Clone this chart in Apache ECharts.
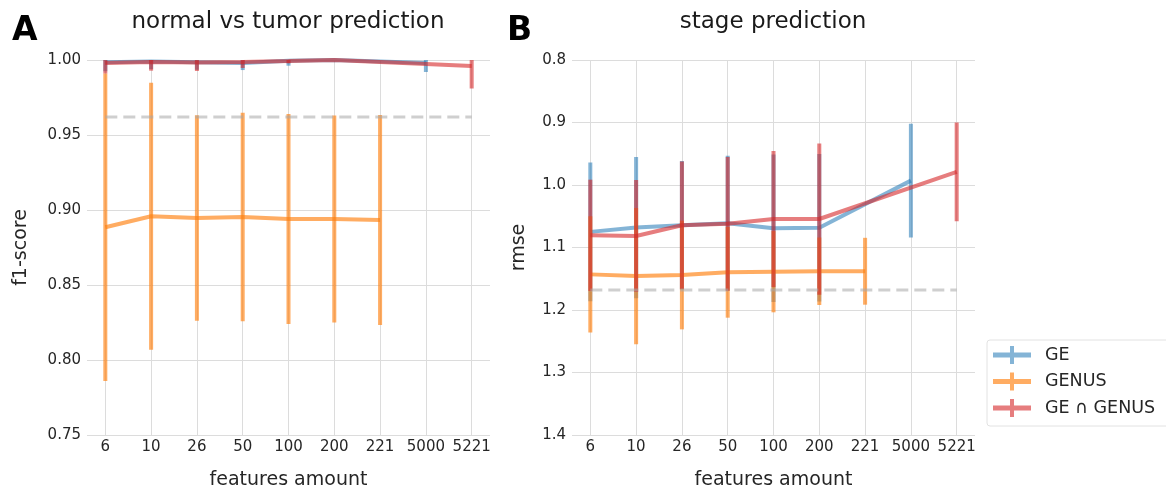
<!DOCTYPE html>
<html>
<head>
<meta charset="utf-8">
<script src="https://cdn.jsdelivr.net/npm/echarts@6/dist/echarts.min.js"></script>
<style>
html,body{margin:0;padding:0;background:#fff;}
#chart{width:1166px;height:490px;}
</style>
</head>
<body>
<div id="chart"></div>
<script>
// ---- data ----
const categories = ['6', '10', '26', '50', '100', '200', '221', '5000', '5221'];
const seriesNames = ['GE', 'GENUS', 'GE \u2229 GENUS'];

// Panel A: f1-score (mean, std)
const geF1 = [0.9985, 0.999, 0.9985, 0.998, 0.9995, 1.0, null, 0.998, null];
const geF1Std = [0.006, 0.005, 0.005, 0.0047, 0.0033, 0.0, null, 0.006, null];
const genusF1 = [0.8885, 0.8958, 0.8947, 0.8953, 0.894, 0.894, 0.8933, null, null];
const genusF1Std = [0.1025, 0.089, 0.0685, 0.0695, 0.070, 0.069, 0.070, null, null];
const bothF1 = [0.998, 0.9987, 0.9984, 0.9987, 0.9993, 1.0, null, null, 0.996];
const bothF1Std = [0.007, 0.0058, 0.0057, 0.004, 0.0015, 0.0, null, null, 0.015];
const baselineF1 = 0.962;

// Panel B: rmse (mean, std)
const geRmse = [1.075, 1.068, 1.0645, 1.0613, 1.0693, 1.0683, null, 0.993, null];
const geRmseStd = [0.111, 0.113, 0.103, 0.108, 0.118, 0.118, null, 0.091, null];
const genusRmse = [1.143, 1.1456, 1.144, 1.1397, 1.1387, 1.138, 1.138, null, null];
const genusRmseStd = [0.093, 0.109, 0.087, 0.0726, 0.065, 0.054, 0.0535, null, null];
const bothRmse = [1.0805, 1.0816, 1.0645, 1.062, 1.0544, 1.0544, null, null, 0.979];
const bothRmseStd = [0.089, 0.0896, 0.102, 0.107, 0.1087, 0.121, null, null, 0.079];
const baselineRmse = 1.168;

// y tick settings
const yTicksA = {min: 0.75, max: 1.0, interval: 0.05};
const yTicksB = {min: 0.8, max: 1.4, interval: 0.1};

// ---- style ----
const FONT = 'DejaVu Sans';
const TXT = '#262626';
const colors = ['#1f77b4', '#ff7f0e', '#d62728'];
const alphas = [0.55, 0.65, 0.6];
const GRIDC = '#dcdcdc';

function lineData(vals) {
  return vals.map((v, i) => [i, v]);
}
function errData(vals, stds) {
  const out = [];
  vals.forEach((v, i) => { if (v !== null) out.push([i, v, stds[i]]); });
  return out;
}
function makeErrRender(color, alpha) {
  return function (params, api) {
    const x = api.value(0), m = api.value(1), s = api.value(2);
    const p1 = api.coord([x, m - s]);
    const p2 = api.coord([x, m + s]);
    return {
      type: 'line',
      shape: {x1: p1[0], y1: p1[1], x2: p2[0], y2: p2[1]},
      style: {stroke: color, lineWidth: 4, opacity: alpha, lineCap: 'butt'}
    };
  };
}

function panelSeries(axisIdx, means, stds, baseline, clip) {
  const out = [];
  means.forEach((m, k) => {
    out.push({
      name: seriesNames[k], type: 'line',
      xAxisIndex: axisIdx, yAxisIndex: axisIdx,
      data: lineData(m), connectNulls: true,
      symbol: 'none', showSymbol: false,
      lineStyle: {color: colors[k], width: 4, opacity: alphas[k]},
      itemStyle: {color: colors[k]},
      emphasis: {disabled: true}, silent: true, z: 2 + k
    });
    out.push({
      name: seriesNames[k], type: 'custom',
      xAxisIndex: axisIdx, yAxisIndex: axisIdx,
      data: errData(m, stds[k]), encode: {x: 0, y: 1},
      renderItem: makeErrRender(colors[k], alphas[k]),
      clip: clip, silent: true, z: 2 + k
    });
  });
  out.push({
    name: 'baseline', type: 'line',
    xAxisIndex: axisIdx, yAxisIndex: axisIdx,
    data: [[0, baseline], [categories.length - 1, baseline]],
    symbol: 'none', silent: true,
    lineStyle: {color: '#a8a8a8', width: 3, type: [12, 6], opacity: 0.55},
    z: 6
  });
  return out;
}

const catIdx = categories.map((c, i) => i);

function xAxisCfg(gridIndex) {
  return {
    type: 'value', gridIndex: gridIndex,
    min: -0.4, max: categories.length - 1 + 0.4,
    axisLine: {show: false},
    axisTick: {show: false, customValues: catIdx},
    axisLabel: {
      customValues: catIdx, margin: 5,
      formatter: v => categories[Math.round(v)],
      fontFamily: FONT, fontSize: 15, color: TXT
    },
    splitLine: {show: true, lineStyle: {color: GRIDC, width: 1}},
    name: 'features amount', nameLocation: 'middle', nameGap: 36,
    nameTextStyle: {fontFamily: FONT, fontSize: 19, color: TXT}
  };
}
function yAxisCfg(gridIndex, t, decimals, name, gap, inverse) {
  return {
    type: 'value', gridIndex: gridIndex,
    min: t.min, max: t.max, interval: t.interval, inverse: inverse,
    axisLine: {show: false}, axisTick: {show: false},
    axisLabel: {
      margin: 6, formatter: v => v.toFixed(decimals),
      fontFamily: FONT, fontSize: 15, color: TXT
    },
    splitLine: {show: true, lineStyle: {color: GRIDC, width: 1}},
    name: name, nameLocation: 'middle', nameGap: gap, nameRotate: 90,
    nameTextStyle: {fontFamily: FONT, fontSize: 19, color: TXT}
  };
}

const legendIcon = 'path://M0,6.5h38v5h-38z M17,0h4v18h-4z';

const option = {
  animation: false,
  backgroundColor: '#ffffff',
  grid: [
    {left: 87, top: 60, width: 403, height: 375, outerBoundsMode: 'none', containLabel: false},
    {left: 572, top: 60, width: 403, height: 375, outerBoundsMode: 'none', containLabel: false}
  ],
  xAxis: [xAxisCfg(0), xAxisCfg(1)],
  yAxis: [
    yAxisCfg(0, yTicksA, 2, 'f1-score', 56, false),
    yAxisCfg(1, yTicksB, 1, 'rmse', 43, true)
  ],
  legend: {
    orient: 'vertical', left: 987, top: 340,
    itemWidth: 38, itemHeight: 18, itemGap: 8.5,
    padding: [6, 40, 9, 6],
    borderColor: '#e2e2e2', borderWidth: 1, borderRadius: 3,
    selectedMode: false,
    textStyle: {fontFamily: FONT, fontSize: 17.5, color: TXT, padding: [0, 0, 0, 9]},
    data: seriesNames.map((n, k) => ({
      name: n, icon: legendIcon,
      itemStyle: {color: colors[k], opacity: alphas[k]}
    }))
  },
  graphic: [
    {type: 'text', x: 12, y: 31, style: {text: 'A', font: 'bold 33px "DejaVu Sans"', fill: '#000', align: 'left', verticalAlign: 'middle'}},
    {type: 'text', x: 507, y: 31, style: {text: 'B', font: 'bold 33px "DejaVu Sans"', fill: '#000', align: 'left', verticalAlign: 'middle'}},
    {type: 'text', x: 288, y: 22, style: {text: 'normal vs tumor prediction', font: '23px "DejaVu Sans"', fill: '#1a1a1a', align: 'center', verticalAlign: 'middle'}},
    {type: 'text', x: 773, y: 22, style: {text: 'stage prediction', font: '23px "DejaVu Sans"', fill: '#1a1a1a', align: 'center', verticalAlign: 'middle'}}
  ],
  series: [].concat(
    panelSeries(0, [geF1, genusF1, bothF1], [geF1Std, genusF1Std, bothF1Std], baselineF1, true),
    panelSeries(1, [geRmse, genusRmse, bothRmse], [geRmseStd, genusRmseStd, bothRmseStd], baselineRmse, true)
  )
};

const chart = echarts.init(document.getElementById('chart'), null, {renderer: 'canvas'});
chart.setOption(option);
</script>
</body>
</html>
